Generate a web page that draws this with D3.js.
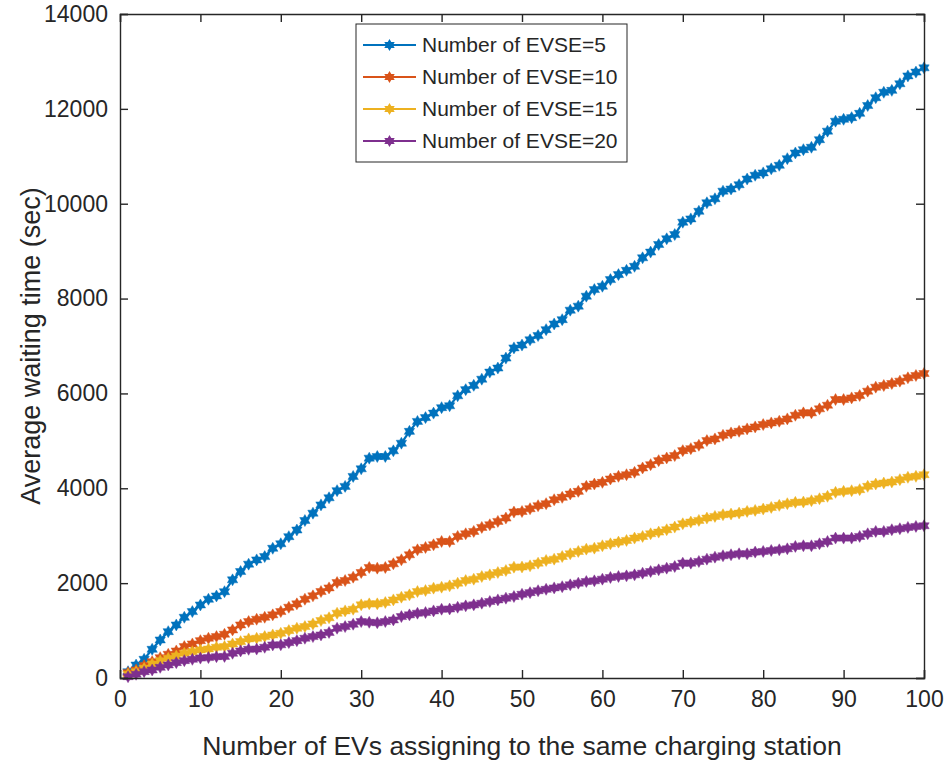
<!DOCTYPE html>
<html>
<head>
<meta charset="utf-8">
<script src="https://cdn.jsdelivr.net/npm/d3@7"></script>
<style>
  body { margin: 0; background: #fff; }
  text { font-family: "Liberation Sans", Arial, sans-serif; fill: #262626; }
</style>
</head>
<body>
<script>
var evCount = d3.range(1, 101);

var seriesNames = ['Number of EVSE=5', 'Number of EVSE=10', 'Number of EVSE=15', 'Number of EVSE=20'];
var seriesColors = ['#0072bd', '#d95319', '#edb120', '#7e2f8e'];

var evse5 = [133,274,394,605,802,977,1118,1280,1400,1540, 1660,1730,1820,2070,2245,2400,2490,2560,2735,2830,
  2980,3120,3320,3475,3650,3800,3950,4040,4250,4410, 4635,4670,4670,4790,4950,5200,5410,5490,5585,5700,
  5740,5950,6080,6170,6300,6450,6535,6745,6960,7020, 7130,7220,7345,7465,7555,7755,7840,8050,8190,8260,
  8400,8505,8595,8680,8860,8980,9140,9260,9350,9610, 9680,9840,10020,10105,10265,10310,10400,10520,10600,10650,
  10735,10810,10950,11070,11140,11190,11350,11530,11740,11780, 11815,11905,12070,12235,12350,12390,12530,12695,12775,12865];

var evse10 = [113,169,261,345,429,500,570,662,718,788, 838,873,922,1014,1119,1190,1239,1281,1331,1401,
  1492,1563,1661,1732,1823,1900,2013,2055,2126,2224, 2330,2316,2330,2408,2492,2598,2703,2752,2809,2879,
  2879,2985,3041,3090,3175,3231,3302,3372,3499,3510, 3569,3633,3675,3759,3809,3879,3935,4041,4090,4125,
  4196,4252,4287,4336,4428,4498,4583,4639,4689,4794, 4836,4907,5005,5041,5118,5167,5202,5252,5294,5343,
  5378,5414,5463,5540,5590,5590,5675,5751,5871,5871, 5906,5956,6048,6132,6167,6209,6259,6329,6378,6420];

var evse15 = [80,134,204,296,366,415,465,521,556,591, 612,648,662,718,767,824,838,873,908,943,
  999,1049,1084,1140,1211,1270,1366,1415,1450,1542, 1563,1563,1591,1647,1704,1753,1823,1844,1894,1915,
  1943,2000,2055,2084,2140,2175,2224,2266,2337,2340, 2365,2422,2478,2506,2562,2619,2668,2717,2738,2788,
  2830,2865,2900,2950,2985,3041,3076,3126,3182,3252, 3288,3323,3372,3407,3443,3457,3478,3513,3534,3562,
  3597,3640,3675,3703,3710,3738,3780,3830,3914,3935, 3949,3971,4041,4090,4111,4132,4182,4231,4252,4287];

var evse20 = [28,78,134,169,225,275,324,366,394,420, 430,450,455,521,570,605,610,648,697,700,
  746,788,838,873,908,960,1049,1084,1133,1190, 1175,1165,1190,1225,1295,1331,1366,1380,1415,1450,
  1455,1492,1521,1542,1577,1612,1647,1683,1718,1765, 1800,1840,1870,1900,1925,1964,2000,2034,2049,2084,
  2119,2140,2154,2175,2210,2245,2281,2316,2351,2422, 2422,2457,2506,2548,2577,2598,2619,2619,2654,2668,
  2689,2703,2724,2774,2788,2788,2830,2879,2950,2950, 2950,2985,3041,3090,3090,3126,3147,3175,3196,3210];

var xTicks = [0,10,20,30,40,50,60,70,80,90,100];
var yTicks = [0,2000,4000,6000,8000,10000,12000,14000];

var allSeries = [evse5, evse10, evse15, evse20];

var width = 947, height = 764;
var margin = {top: 14, right: 23, bottom: 86, left: 120};
var innerW = width - margin.left - margin.right,
    innerH = height - margin.top - margin.bottom;

var svg = d3.select('body').append('svg')
    .attr('width', width)
    .attr('height', height);

var g = svg.append('g')
    .attr('transform', 'translate(' + margin.left + ',' + margin.top + ')');

var x = d3.scaleLinear().domain([0, 100]).range([0, innerW]);
var y = d3.scaleLinear().domain([0, 14000]).range([innerH, 0]);

// hexagram marker
function hexagram(r) {
  var pts = [];
  for (var i = 0; i < 12; i++) {
    var a = Math.PI / 2 + i * Math.PI / 6;
    var rr = (i % 2 === 0) ? r : r * 0.58;
    pts.push([rr * Math.cos(a), -rr * Math.sin(a)]);
  }
  return 'M' + pts.map(function(p) { return p[0].toFixed(2) + ',' + p[1].toFixed(2); }).join('L') + 'Z';
}
var markerPath = hexagram(6);

var line = d3.line()
    .x(function(d, i) { return x(evCount[i]); })
    .y(function(d) { return y(d); });

var series = g.selectAll('.series')
    .data(allSeries)
  .enter().append('g')
    .attr('class', 'series');

series.append('path')
    .attr('d', line)
    .attr('fill', 'none')
    .attr('stroke', function(d, i) { return seriesColors[i]; })
    .attr('stroke-width', 2.2);

series.each(function(d, si) {
  d3.select(this).selectAll('.mk')
      .data(d)
    .enter().append('path')
      .attr('class', 'mk')
      .attr('d', markerPath)
      .attr('transform', function(v, i) { return 'translate(' + x(evCount[i]) + ',' + y(v) + ')'; })
      .attr('fill', seriesColors[si])
      .attr('stroke', seriesColors[si])
      .attr('stroke-opacity', 0.45)
      .attr('stroke-width', 1);
});

// axes, MATLAB style box with inward ticks
var axisColor = '#262626';
var tickLen = 8;

var xAxis = g.append('g')
    .attr('transform', 'translate(0,' + innerH + ')')
    .call(d3.axisBottom(x).tickValues(xTicks).tickSize(-tickLen).tickPadding(13));
var xAxisTop = g.append('g')
    .call(d3.axisTop(x).tickValues(xTicks).tickSize(-tickLen).tickFormat(''));
var yAxis = g.append('g')
    .call(d3.axisLeft(y).tickValues(yTicks).tickSize(-tickLen).tickPadding(12).tickFormat(d3.format('d')));
var yAxisRight = g.append('g')
    .attr('transform', 'translate(' + innerW + ',0)')
    .call(d3.axisRight(y).tickValues(yTicks).tickSize(-tickLen).tickFormat(''));

[xAxis, xAxisTop, yAxis, yAxisRight].forEach(function(a) {
  a.select('.domain').attr('stroke', axisColor).attr('stroke-width', 1.4);
  a.selectAll('.tick line').attr('stroke', axisColor).attr('stroke-width', 1.4);
  a.selectAll('.tick text')
      .attr('fill', axisColor)
      .style('font-size', '23px')
      .style('font-family', '"Liberation Sans", Arial, sans-serif');
});

// axis labels
g.append('text')
    .attr('x', innerW / 2)
    .attr('y', innerH + 77)
    .attr('text-anchor', 'middle')
    .style('font-size', '26.5px')
    .text('Number of EVs assigning to the same charging station');

g.append('text')
    .attr('transform', 'translate(' + (-80) + ',' + (innerH / 2) + ') rotate(-90)')
    .attr('text-anchor', 'middle')
    .style('font-size', '27px')
    .text('Average waiting time (sec)');

// legend
var legend = svg.append('g')
    .attr('transform', 'translate(356,24)');

legend.append('rect')
    .attr('width', 271)
    .attr('height', 138)
    .attr('fill', '#fff')
    .attr('stroke', axisColor)
    .attr('stroke-width', 1);

var item = legend.selectAll('.item')
    .data(seriesNames)
  .enter().append('g')
    .attr('class', 'item')
    .attr('transform', function(d, i) { return 'translate(0,' + (21 + i * 32) + ')'; });

item.append('line')
    .attr('x1', 7).attr('x2', 60)
    .attr('stroke', function(d, i) { return seriesColors[i]; })
    .attr('stroke-width', 2.2);

item.append('path')
    .attr('d', markerPath)
    .attr('transform', 'translate(33.5,0)')
    .attr('fill', function(d, i) { return seriesColors[i]; });

item.append('text')
    .attr('x', 66)
    .attr('dy', '0.35em')
    .style('font-size', '21px')
    .text(function(d) { return d; });
</script>
</body>
</html>
